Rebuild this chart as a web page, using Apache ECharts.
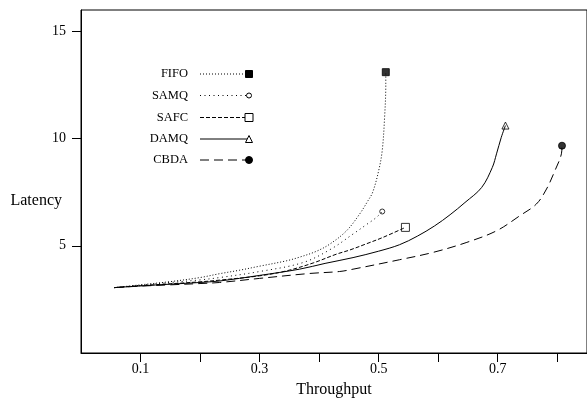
<!DOCTYPE html>
<html>
<head>
<meta charset="utf-8">
<script src="https://cdn.jsdelivr.net/npm/echarts@6/dist/echarts.min.js"></script>
<style>
html,body{margin:0;padding:0;background:#fff;}
#chart{width:587px;height:403px;}
</style>
</head>
<body>
<div id="chart"></div>
<script>
// ---- data ----
var seriesNames = ['FIFO', 'SAMQ', 'SAFC', 'DAMQ', 'CBDA'];

var fifo = [[0.056,3.05],[0.1,3.18],[0.15,3.33],[0.2,3.52],[0.233,3.7],[0.266,3.86],[0.3,4.05],[0.345,4.3],[0.367,4.47],[0.395,4.74],[0.418,5.08],[0.446,5.7],[0.468,6.48],[0.482,7.1],[0.49,7.5],[0.5,8.5],[0.506,9.44],[0.51,11.0],[0.512,12.5],[0.512,13.1]];
var samq = [[0.056,3.05],[0.1,3.16],[0.15,3.29],[0.2,3.41],[0.233,3.52],[0.3,3.8],[0.373,4.22],[0.42,4.85],[0.457,5.55],[0.48,6.0],[0.496,6.32],[0.506,6.6]];
var safc = [[0.056,3.05],[0.1,3.14],[0.15,3.23],[0.2,3.32],[0.233,3.4],[0.3,3.6],[0.345,3.83],[0.39,4.2],[0.429,4.61],[0.451,4.8],[0.48,5.1],[0.507,5.39],[0.545,5.86]];
var damq = [[0.056,3.05],[0.1,3.13],[0.15,3.21],[0.2,3.29],[0.233,3.36],[0.3,3.62],[0.367,3.91],[0.41,4.18],[0.457,4.45],[0.5,4.75],[0.535,5.05],[0.565,5.45],[0.594,5.93],[0.62,6.45],[0.645,7.02],[0.673,7.72],[0.691,8.66],[0.698,9.29],[0.706,10.06],[0.713,10.61]];
var cbda = [[0.056,3.05],[0.1,3.12],[0.15,3.18],[0.2,3.24],[0.233,3.29],[0.3,3.48],[0.384,3.71],[0.434,3.8],[0.457,3.91],[0.535,4.35],[0.591,4.69],[0.647,5.15],[0.698,5.7],[0.737,6.4],[0.765,6.95],[0.782,7.65],[0.796,8.5],[0.807,9.29],[0.808,9.67]];

var xTickValues = [0.1, 0.2, 0.3, 0.4, 0.5, 0.6, 0.7, 0.8];
var xLabelValues = [0.1, 0.3, 0.5, 0.7];
var yTickValues = [5, 10, 15];

// ---- styling ----
var INK = '#000';
var FONT = 'Liberation Serif';
var allData = [fifo, samq, safc, damq, cbda];
var dashes = [[1, 2], [1, 3.5], [4, 2], 'solid', [9, 5]];
var symbols = ['rect', 'circle', 'rect', 'triangle', 'circle'];
var symSizes = [7, 5, 8, 7, 7];
var filled = [true, false, false, false, true];

var series = [];
allData.forEach(function (d, i) {
  series.push({
    name: seriesNames[i], type: 'line', data: d, showSymbol: false, symbol: 'none',
    smooth: 0.35, silent: true,
    lineStyle: { color: INK, width: 1, type: dashes[i] }
  });
  series.push({
    name: seriesNames[i] + '_end', type: 'scatter', data: [d[d.length - 1]],
    symbol: symbols[i], symbolSize: symSizes[i], silent: true,
    itemStyle: { color: filled[i] ? INK : '#fff', borderColor: INK, borderWidth: 1 }
  });
});

// legend drawn as graphic elements
var legendRows = [74, 95.5, 117.5, 139, 160];
var graphics = [];
seriesNames.forEach(function (n, i) {
  var y = legendRows[i];
  graphics.push({ type: 'text', x: 188, y: y, style: { text: n, fill: INK, font: '12.5px "' + FONT + '"', align: 'right', verticalAlign: 'middle' } });
  graphics.push({ type: 'line', shape: { x1: 200, y1: y, x2: 248, y2: y }, style: { stroke: INK, lineWidth: 1, lineDash: dashes[i] === 'solid' ? null : dashes[i] } });
  var s = symSizes[i];
  var fill = filled[i] ? INK : '#fff';
  if (symbols[i] === 'rect') {
    graphics.push({ type: 'rect', shape: { x: 249 - s / 2, y: y - s / 2, width: s, height: s }, style: { fill: fill, stroke: INK, lineWidth: 1 } });
  } else if (symbols[i] === 'circle') {
    graphics.push({ type: 'circle', shape: { cx: 249, cy: y, r: s / 2 }, style: { fill: fill, stroke: INK, lineWidth: 1 } });
  } else {
    graphics.push({ type: 'polygon', shape: { points: [[249, y - s / 2], [249 - s / 2, y + s / 2], [249 + s / 2, y + s / 2]] }, style: { fill: fill, stroke: INK, lineWidth: 1 } });
  }
});
graphics.push({ type: 'text', x: 62, y: 201, style: { text: 'Latency', fill: INK, font: '16px "' + FONT + '"', align: 'right', verticalAlign: 'middle' } });

var chart = echarts.init(document.getElementById('chart'), null, { renderer: 'canvas' });
chart.setOption({
  animation: false,
  backgroundColor: '#fff',
  textStyle: { fontFamily: FONT, color: INK },
  grid: { left: 81, top: 10, width: 506, height: 344, show: true, borderColor: INK, borderWidth: 1, backgroundColor: 'transparent' },
  xAxis: {
    type: 'value', min: 0, max: 0.85,
    name: 'Throughput', nameLocation: 'middle', nameGap: 29,
    nameTextStyle: { fontFamily: FONT, fontSize: 16, color: INK },
    axisLine: { show: true, lineStyle: { color: INK, width: 1 } },
    axisTick: { show: true, inside: false, length: 9, customValues: xTickValues, lineStyle: { color: INK } },
    axisLabel: { customValues: xLabelValues, margin: 9, fontFamily: FONT, fontSize: 14, color: INK,
      formatter: function (v) { return v.toFixed(1); } },
    splitLine: { show: false }
  },
  yAxis: {
    type: 'value', min: 0, max: 16,
    axisLine: { show: true, lineStyle: { color: INK, width: 1 } },
    axisTick: { show: true, inside: false, length: 9, customValues: yTickValues, lineStyle: { color: INK } },
    axisLabel: { customValues: yTickValues, margin: 15, fontFamily: FONT, fontSize: 14, color: INK },
    splitLine: { show: false }
  },
  graphic: graphics,
  series: series
});
</script>
</body>
</html>
